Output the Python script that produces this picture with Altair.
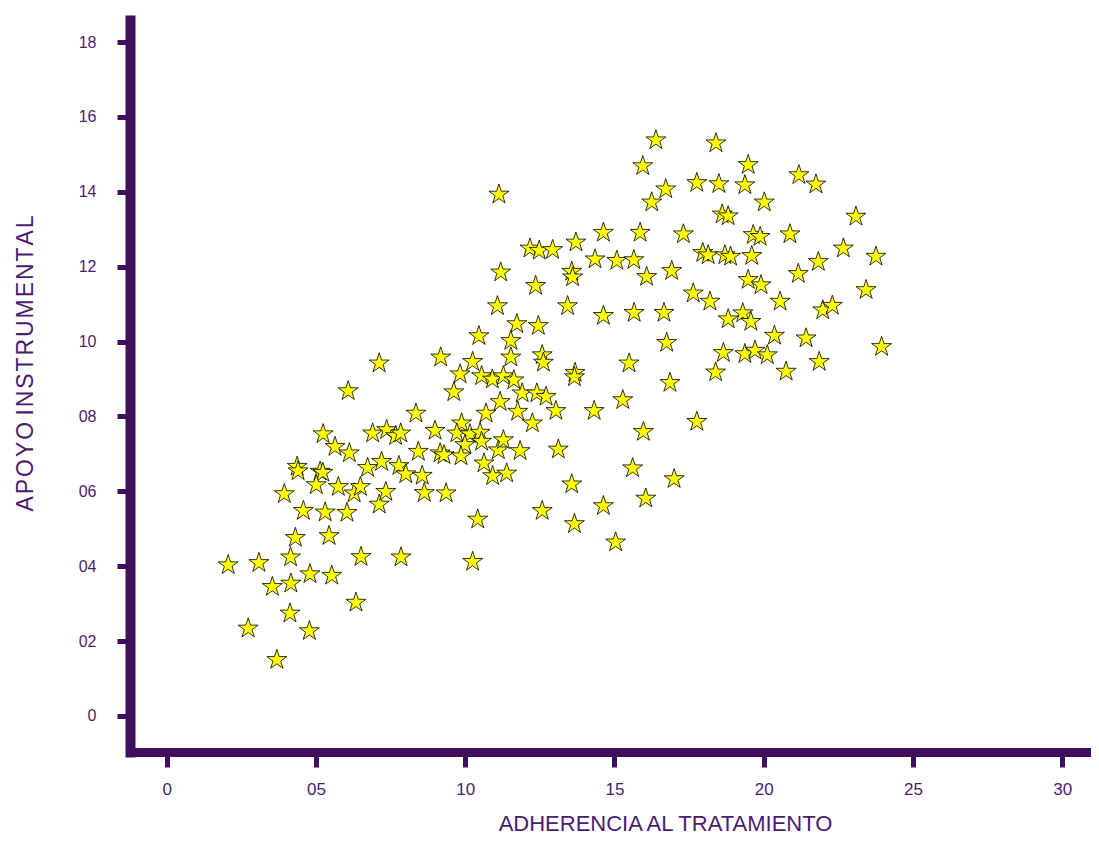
import altair as alt
import pandas as pd

# Data
adherencia = [2.06, 3.09, 4.15, 4.31, 5.44, 6.51, 7.85, 3.54, 4.16, 4.80,
              5.53, 6.34, 4.13, 2.73, 4.78, 3.69, 3.94, 4.58, 5.31, 6.04,
              7.12, 4.37, 4.40, 5.14, 5.23, 5.01, 5.75, 6.28, 6.49, 7.34,
              6.73, 7.20, 7.78, 8.01, 8.56, 8.63, 9.36, 8.43, 9.16, 9.29,
              5.64, 6.12, 7.12, 6.08, 10.46, 11.73, 12.45, 11.53, 9.18, 10.25,
              11.53, 12.58, 12.62, 13.68, 13.66, 9.83, 10.55, 10.91, 11.28, 11.63,
              9.62, 11.91, 12.40, 12.71, 11.17, 10.70, 11.76, 12.25, 13.04, 8.35,
              8.99, 9.88, 9.72, 10.16, 10.50, 10.55, 9.99, 9.86, 6.90, 7.37,
              7.67, 7.84, 10.25, 10.42, 10.63, 10.92, 11.39, 11.11, 11.28, 11.84,
              13.12, 13.57, 12.58, 13.66, 14.32, 11.13, 15.95, 16.72, 16.25, 14.63,
              15.86, 17.31, 13.71, 12.17, 12.48, 12.93, 14.35, 15.08, 15.65, 16.92,
              16.08, 13.57, 13.60, 11.19, 12.36, 11.08, 13.43, 14.63, 15.66, 16.66,
              16.75, 15.49, 16.86, 15.28, 17.76, 18.50, 19.37, 21.18, 19.48, 20.02,
              18.61, 18.81, 19.65, 19.88, 20.88, 17.96, 18.14, 18.70, 18.89, 19.60,
              19.48, 19.91, 21.16, 17.64, 18.20, 20.55, 18.81, 19.30, 19.57, 20.36,
              21.42, 18.65, 19.37, 19.71, 20.12, 18.39, 20.75, 17.76, 15.97, 15.61,
              17.00, 16.05, 14.63, 15.04, 18.40, 21.75, 23.09, 22.67, 23.76, 21.83,
              23.43, 21.98, 22.30, 23.95, 21.86, 16.39, 5.24]

apoyo = [4.03, 4.09, 4.24, 4.76, 4.81, 4.25, 4.24, 3.45, 3.54, 3.79,
         3.75, 3.03, 2.74, 2.34, 2.27, 1.50, 5.93, 5.48, 5.44, 5.43,
         5.65, 6.66, 6.54, 6.53, 6.50, 6.17, 6.12, 5.95, 6.12, 5.99,
         6.63, 6.79, 6.68, 6.46, 6.42, 5.96, 5.95, 7.06, 7.02, 6.97,
         7.19, 7.02, 9.42, 8.68, 10.15, 10.47, 10.42, 10.02, 9.58, 9.46,
         9.58, 9.64, 9.44, 9.17, 9.05, 9.13, 9.08, 8.99, 9.08, 8.97,
         8.65, 8.62, 8.62, 8.53, 8.39, 8.08, 8.13, 7.82, 8.15, 8.08,
         7.62, 7.82, 7.55, 7.53, 7.57, 7.33, 7.24, 6.94, 7.55, 7.64,
         7.48, 7.55, 4.12, 5.25, 6.75, 6.41, 6.48, 7.10, 7.37, 7.08,
         7.12, 6.19, 5.48, 5.13, 8.15, 13.93, 14.69, 14.07, 13.72, 12.91,
         12.91, 12.87, 12.65, 12.49, 12.43, 12.45, 12.20, 12.16, 12.18, 11.89,
         11.73, 11.87, 11.72, 11.85, 11.49, 10.95, 10.95, 10.69, 10.77, 10.77,
         9.97, 9.42, 8.90, 8.44, 14.24, 14.21, 14.18, 14.45, 14.72, 13.72,
         13.40, 13.35, 12.85, 12.80, 12.87, 12.37, 12.31, 12.31, 12.27, 12.29,
         11.65, 11.51, 11.81, 11.29, 11.07, 11.07, 10.60, 10.76, 10.53, 10.16,
         10.09, 9.70, 9.67, 9.76, 9.64, 9.18, 9.20, 7.86, 7.59, 6.62,
         6.33, 5.81, 5.61, 4.64, 15.30, 14.20, 13.34, 12.49, 12.27, 12.13,
         11.38, 10.84, 10.96, 9.86, 9.46, 15.38, 7.53]

x_ticks = [0, 5, 10, 15, 20, 25, 30]
y_ticks = [0, 2, 4, 6, 8, 10, 12, 14, 16, 18]

df = pd.DataFrame({"adherencia": adherencia, "apoyo": apoyo})

PURPLE = "#400d5f"
TXT = "#4b1c6e"
FONT = "Liberation Sans"
STAR = ("M0,-1L0.2245,-0.309L0.951,-0.309L0.363,0.118L0.588,0.809L0,0.382"
        "L-0.588,0.809L-0.363,0.118L-0.951,-0.309L-0.2245,-0.309Z")

label_expr = ("datum.value == 0 ? '0' : (datum.value < 10 ? '0' + datum.value : '' + datum.value)")

HS = "\u200a"
y_title = HS.join(list("APOYO")) + " " + HS.join(list("INSTRUMENTAL"))

x_axis = alt.Axis(
    values=x_ticks, labelExpr=label_expr, grid=False,
    domainColor=PURPLE, domainWidth=9, domainCap="square",
    tickColor=PURPLE, tickWidth=5, tickSize=15,
    labelColor=TXT, labelFont=FONT, labelFontSize=17, labelPadding=14,
    labelFlush=False, labelOverlap=False,
    title="ADHERENCIA AL TRATAMIENTO", titleFont=FONT, titleFontSize=22,
    titleFontWeight="normal", titleColor=TXT, titleX=535, titleY=78,
    titleBaseline="alphabetic", titleAlign="center",
)

y_axis = alt.Axis(
    values=y_ticks, labelExpr=label_expr, grid=False,
    domainColor=PURPLE, domainWidth=10, domainCap="square",
    tickColor=PURPLE, tickWidth=5, tickSize=13,
    labelColor=TXT, labelFont=FONT, labelFontSize=16, labelPadding=21,
    labelFlush=False, labelOverlap=False,
    title=y_title, titleFont=FONT, titleFontSize=23,
    titleFontWeight="normal", titleColor=TXT, titleAngle=270,
    titleX=-98, titleY=343, titleBaseline="alphabetic", titleAlign="center",
)

chart = alt.Chart(df).mark_point(
    shape=STAR, filled=True, fill="#FFFF00", stroke="#000000",
    strokeWidth=0.8, size=440, opacity=1,
).encode(
    x=alt.X("adherencia:Q", scale=alt.Scale(domain=[-1.229, 30.965], nice=False, zero=False), axis=x_axis),
    y=alt.Y("apoyo:Q", scale=alt.Scale(domain=[-0.962, 18.59], nice=False, zero=False), axis=y_axis),
).properties(
    width=961, height=732,
    autosize=alt.AutoSizeParams(type="none"),
    padding={"left": 122, "top": 12, "right": 0, "bottom": 84},
    background="white",
).configure_view(strokeOpacity=0)

chart.save("out.html", embed_options={"renderer": "svg", "actions": False})
